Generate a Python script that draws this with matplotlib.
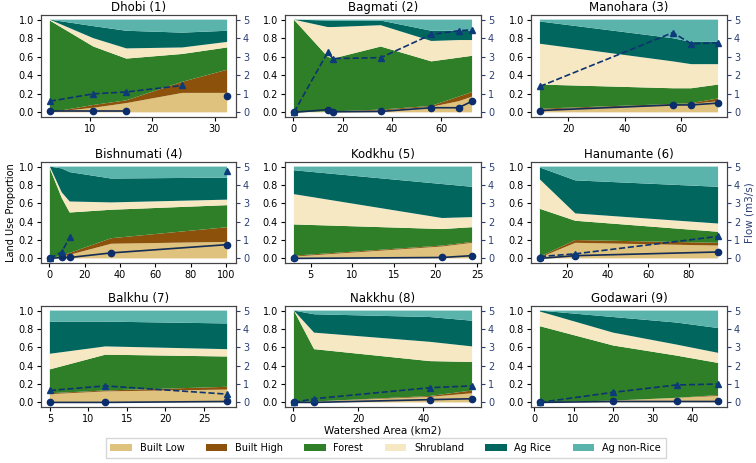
import matplotlib
matplotlib.use("Agg")
import matplotlib.pyplot as plt
from matplotlib.patches import Patch
import numpy as np

nan = np.nan

names = ["Dhobi (1)", "Bagmati (2)", "Manohara (3)", "Bishnumati (4)", "Kodkhu (5)",
         "Hanumante (6)", "Balkhu (7)", "Nakkhu (8)", "Godawari (9)"]
classes = ["Built Low", "Built High", "Forest", "Shrubland", "Ag Rice", "Ag non-Rice"]
colors = ["#dfc27d", "#8c510a", "#2f7f28", "#f6e8c3", "#01665e", "#5ab4ac"]

# watershed area (km2) of each gauge, per watershed
area = [
    [3.5, 10.5, 15.8, 24.8, 32.0],
    [0.3, 14, 16, 35.5, 56, 67, 72.5],
    [10, 57, 63.5, 73],
    [0.3, 7, 11.5, 35, 100.5],
    [3, 20.8, 24.4],
    [6.5, 24, 94.5],
    [5, 12.2, 28],
    [0.3, 6.5, 42, 55],
    [1.5, 20, 36, 46.5],
]

# cumulative upper edge of each land use class (Ag non-Rice goes up to 1)
top_built_low = [
    [0, 0.05, 0.10, 0.21, 0.21],
    [0, 0.01, 0.01, 0.02, 0.06, 0.12, 0.17],
    [0.03, 0.08, 0.09, 0.12],
    [0, 0.02, 0.04, 0.16, 0.18],
    [0.02, 0.13, 0.17],
    [0.01, 0.17, 0.14],
    [0.09, 0.12, 0.14],
    [0, 0.01, 0.06, 0.10],
    [0, 0.02, 0.05, 0.07],
]
top_built_high = [
    [0, 0.08, 0.13, 0.33, 0.46],
    [0, 0.01, 0.01, 0.03, 0.07, 0.17, 0.22],
    [0.04, 0.09, 0.10, 0.15],
    [0, 0.03, 0.06, 0.22, 0.34],
    [0.03, 0.14, 0.18],
    [0.02, 0.20, 0.17],
    [0.10, 0.13, 0.17],
    [0, 0.01, 0.07, 0.13],
    [0, 0.02, 0.05, 0.08],
]
top_forest = [
    [0.99, 0.71, 0.58, 0.63, 0.70],
    [1.0, 0.60, 0.58, 0.71, 0.55, 0.59, 0.61],
    [0.30, 0.26, 0.26, 0.30],
    [0.98, 0.66, 0.50, 0.53, 0.58],
    [0.37, 0.32, 0.34],
    [0.54, 0.41, 0.29],
    [0.36, 0.52, 0.50],
    [1.0, 0.58, 0.45, 0.44],
    [0.83, 0.62, 0.51, 0.43],
]
top_shrub = [
    [1.0, 0.80, 0.69, 0.70, 0.76],
    [1.0, 0.92, 0.92, 0.94, 0.77, 0.78, 0.78],
    [0.74, 0.55, 0.52, 0.52],
    [1.0, 0.72, 0.62, 0.61, 0.64],
    [0.70, 0.44, 0.45],
    [0.86, 0.49, 0.38],
    [0.53, 0.61, 0.58],
    [1.0, 0.76, 0.66, 0.61],
    [0.99, 0.76, 0.63, 0.54],
]
top_rice = [
    [1.0, 0.93, 0.88, 0.86, 0.88],
    [1.0, 0.99, 0.99, 0.99, 0.88, 0.88, 0.88],
    [0.98, 0.80, 0.76, 0.76],
    [1.0, 0.98, 0.94, 0.87, 0.88],
    [0.96, 0.81, 0.78],
    [0.99, 0.85, 0.78],
    [0.88, 0.88, 0.86],
    [1.0, 0.96, 0.93, 0.89],
    [1.0, 0.93, 0.87, 0.81],
]

# flow (m3/s): circles = solid line, triangles = dashed line
flow_circle = [
    [0.1, 0.1, 0.1, nan, 0.9],
    [0, 0.15, 0.03, 0.05, 0.25, 0.25, 0.6],
    [0.1, 0.4, 0.4, 0.5],
    [0, 0.05, 0.05, 0.3, 0.75],
    [0, 0.05, 0.15],
    [0, 0.15, 0.35],
    [0, 0, 0.05],
    [0, 0, 0.15, 0.2],
    [0, 0.05, 0.05, 0.05],
]
flow_triangle = [
    [0.6, 1.0, 1.1, 1.45, nan],
    [0, 3.25, 2.9, 2.95, 4.2, 4.4, 4.45],
    [1.4, 4.3, 3.7, 3.75],
    [0, 0.35, 1.15, nan, 4.75],
    [0.1, nan, nan],
    [0.1, 0.25, 1.2],
    [0.65, 0.9, 0.45],
    [0, 0.2, 0.8, 0.9],
    [0, 0.55, 0.95, 1.0],
]

W, H = 756, 463
fig = plt.figure(figsize=(W / 100, H / 100), dpi=100)

lefts = [41, 285, 531]
widths = [195, 196, 196]
rows = [(15, 117), (162, 263), (306, 407)]
flow_col = "#2b3f73"

for i in range(9):
    r, c = divmod(i, 3)
    t, b = rows[r]
    ax = fig.add_axes([lefts[c] / W, 1 - b / H, widths[c] / W, (b - t) / H])
    x = np.array(area[i])
    tops = np.array([top_built_low[i], top_built_high[i], top_forest[i],
                     top_shrub[i], top_rice[i], np.ones(len(x))])
    layers = np.diff(np.vstack([np.zeros(len(x)), tops]), axis=0)
    ax.stackplot(x, layers, colors=colors, linewidth=0)
    ax.set_ylim(-0.05, 1.05)
    ax.set_yticks([0, 0.2, 0.4, 0.6, 0.8, 1.0])
    ax.set_title(names[i], fontsize=8.5, pad=3)
    ax.tick_params(labelsize=7, length=3, pad=2)
    for s in ax.spines.values():
        s.set_color("#444444")

    ax2 = ax.twinx()
    ax2.plot(x, flow_circle[i], "-o", color="#152c55", mfc="#0b2d6b", mec="#0b2d6b",
             ms=4.5, lw=1.2)
    ax2.plot(x, flow_triangle[i], "--^", color="#0d3370", mfc="#0d3b7a", mec="#0d3b7a",
             ms=4.5, lw=1.2)
    ax2.set_ylim(-0.25, 5.25)
    ax2.set_yticks(range(6))
    ax2.tick_params(labelsize=7, length=3, pad=2, colors=flow_col)
    for s in ax2.spines.values():
        s.set_color("#444444")

    if i == 3:
        ax.set_ylabel("Land Use Proportion", fontsize=7, labelpad=2)
    if i == 5:
        ax2.set_ylabel("Flow (m3/s)", fontsize=7.5, color=flow_col, labelpad=3)
    if i == 7:
        ax.set_xlabel("Watershed Area (km2)", fontsize=7.5, labelpad=1)

handles = [Patch(facecolor=col, label=lab) for col, lab in zip(colors, classes)]
fig.legend(handles=handles, loc="lower center", bbox_to_anchor=(0.51, 0.0),
           ncol=6, fontsize=7, frameon=True, handlelength=2.2, columnspacing=2.2,
           borderpad=0.5, fancybox=False)

fig.savefig("out.png", dpi=100)
